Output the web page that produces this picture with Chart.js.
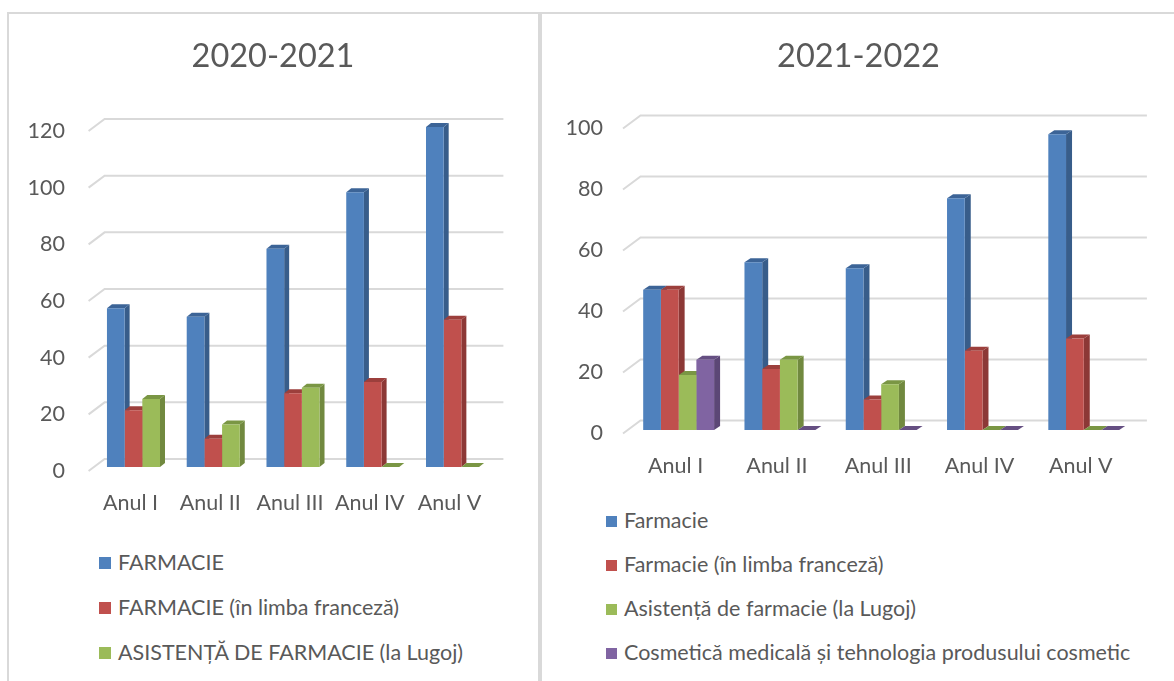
<!DOCTYPE html>
<html>
<head>
<meta charset="utf-8">
<script src="https://cdn.jsdelivr.net/npm/chart.js@4.4.1/dist/chart.umd.min.js"></script>
<style>
    body { margin: 0; background: #fff; width: 1174px; height: 681px; overflow: hidden; position: relative; font-family: Lato, sans-serif; }
    .panel { position: absolute; top: 12px; height: 700px; border-top: 2px solid #d9d9d9; border-left: 2px solid #d9d9d9; }
    #panelLeft { left: 7px; width: 529px; border-right: 2px solid #d9d9d9; }
    #panelRight { left: 540px; width: 700px; }
    canvas { position: absolute; }
    .legend { position: absolute; margin: 0; padding: 0; list-style: none; color: #595959; font-size: 21.5px; }
    .legend li { position: absolute; left: 0; white-space: nowrap; line-height: 24px; }
    .legend span { display: inline-block; vertical-align: middle; margin-right: 7px; margin-top: -3px; }
</style>
</head>
<body>
<div class="panel" id="panelLeft"></div>
<div class="panel" id="panelRight"></div>
<canvas id="chartLeft" width="528" height="520" style="left:9px;top:14px"></canvas>
<canvas id="chartRight" width="631" height="480" style="left:543px;top:14px"></canvas>
<ul class="legend" id="legendLeft" style="left:99px;top:550px"></ul>
<ul class="legend" id="legendRight" style="left:606px;top:508px"></ul>
<script>
// categories and values
const categories = ['Anul I', 'Anul II', 'Anul III', 'Anul IV', 'Anul V'];

const farmacie2021 = [56, 53, 77, 97, 120];
const farmacieFr2021 = [20, 10, 26, 30, 52];
const asistenta2021 = [24, 15, 28, 0, 0];

const farmacie2122 = [46, 55, 53, 76, 97];
const farmacieFr2122 = [46, 20, 10, 26, 30];
const asistenta2122 = [18, 23, 15, 0, 0];
const cosmetica2122 = [23, 0, 0, 0, 0];

const yTicksLeft = [0, 20, 40, 60, 80, 100, 120];
const yTicksRight = [0, 20, 40, 60, 80, 100];

const colors = {
    blue: ['#4f81bd', '#385d8a', '#3c6497'],
    red: ['#c0504d', '#8c3836', '#9c3f3c'],
    green: ['#9bbb59', '#71893f', '#7a9644'],
    purple: ['#8064a2', '#5c4776', '#654f82']
};

function makeDataset(label, data, c) {
    return { label: label, data: data, backgroundColor: c[0], sideColor: c[1], topColor: c[2], borderWidth: 0 };
}

// draws the gridlines on the back wall and the depth faces of the columns
const depth3d = {
    id: 'depth3d',
    beforeDatasetsDraw(chart, args, opts) {
        const ctx = chart.ctx;
        const y = chart.scales.y;
        const area = chart.chartArea;
        ctx.save();
        ctx.strokeStyle = '#d9d9d9';
        ctx.lineWidth = 2;
        y.ticks.forEach(t => {
            const py = y.getPixelForValue(t.value);
            ctx.beginPath();
            ctx.moveTo(area.left + opts.front[0], py + opts.front[1]);
            ctx.lineTo(area.left + opts.wall[0], py - opts.wall[1]);
            ctx.lineTo(area.right + opts.wall[0], py - opts.wall[1]);
            ctx.stroke();
        });
        chart.data.datasets.forEach((ds, i) => {
            chart.getDatasetMeta(i).data.forEach(bar => {
                const p = bar.getProps(['x', 'y', 'base', 'width']);
                const l = p.x - p.width / 2, r = p.x + p.width / 2;
                const dx = opts.dx, dy = opts.dy;
                ctx.fillStyle = ds.sideColor;
                ctx.beginPath();
                ctx.moveTo(r, p.base);
                ctx.lineTo(r + dx, p.base - dy);
                ctx.lineTo(r + dx, p.y - dy);
                ctx.lineTo(r, p.y);
                ctx.closePath();
                ctx.fill();
                ctx.fillStyle = ds.topColor;
                ctx.beginPath();
                ctx.moveTo(l, p.y);
                ctx.lineTo(l + dx, p.y - dy);
                ctx.lineTo(r + dx, p.y - dy);
                ctx.lineTo(r, p.y);
                ctx.closePath();
                ctx.fill();
            });
        });
        ctx.restore();
    }
};

function makeChart(id, title, datasets, ticks, g) {
    return new Chart(document.getElementById(id), {
        type: 'bar',
        data: { labels: categories, datasets: datasets },
        plugins: [depth3d],
        options: {
            responsive: false,
            animation: false,
            datasets: { bar: { categoryPercentage: g.catPct, barPercentage: 1 } },
            layout: { padding: 0 },
            scales: {
                x: {
                    grid: { display: false },
                    border: { display: false },
                    ticks: { color: '#595959', font: { family: 'Lato', size: 21.5 }, padding: g.xPad, labelOffset: -3, maxRotation: 0, autoSkip: false },
                    afterFit: s => { s.height = g.xHeight; }
                },
                y: {
                    min: 0,
                    max: ticks[ticks.length - 1],
                    afterBuildTicks: s => { s.ticks = ticks.map(v => ({ value: v })); },
                    grid: { display: false },
                    border: { display: false },
                    ticks: { color: '#595959', font: { family: 'Lato', size: 21.5 }, padding: g.yPad, labelOffset: g.labelOffset },
                    afterFit: s => { s.width = g.yWidth; }
                },
                yr: {
                    position: 'right',
                    grid: { display: false },
                    border: { display: false },
                    ticks: { display: false },
                    afterFit: s => { s.width = g.rightWidth; }
                }
            },
            plugins: {
                legend: { display: false },
                tooltip: { enabled: false },
                title: {
                    display: true,
                    text: title,
                    color: '#595959',
                    font: { family: 'Lato', size: 32.5, weight: 'normal', lineHeight: 1.2 },
                    padding: { top: 23, bottom: g.titleBottom }
                },
                depth3d: { dx: g.dx, dy: g.dy, wall: g.wall, front: g.front }
            }
        }
    });
}

function htmlLegend(chart, listId, rowGap, box) {
    const ul = document.getElementById(listId);
    chart.data.datasets.forEach((ds, i) => {
        const li = document.createElement('li');
        li.style.top = (i * rowGap) + 'px';
        const sq = document.createElement('span');
        sq.style.width = box + 'px';
        sq.style.height = box + 'px';
        sq.style.background = ds.backgroundColor;
        li.appendChild(sq);
        li.appendChild(document.createTextNode(ds.label));
        ul.appendChild(li);
    });
}

const left = makeChart('chartLeft', '2020-2021', [
    makeDataset('FARMACIE', farmacie2021, colors.blue),
    makeDataset('FARMACIE (în limba franceză)', farmacieFr2021, colors.red),
    makeDataset('ASISTENȚĂ DE FARMACIE (la Lugoj)', asistenta2021, colors.green)
], yTicksLeft, {
    catPct: 0.665, xPad: 15, xHeight: 67, yPad: 20.6, yWidth: 84.6, rightWidth: 44.6,
    labelOffset: 4, titleBottom: 51, dx: 5, dy: 4, wall: [11, 8], front: [-5, 4]
});

const right = makeChart('chartRight', '2021-2022', [
    makeDataset('Farmacie', farmacie2122, colors.blue),
    makeDataset('Farmacie (în limba franceză)', farmacieFr2122, colors.red),
    makeDataset('Asistență de farmacie (la Lugoj)', asistenta2122, colors.green),
    makeDataset('Cosmetică medicală și tehnologia produsului cosmetic', cosmetica2122, colors.purple)
], yTicksRight, {
    catPct: 0.70, xPad: 15, xHeight: 64, yPad: 17, yWidth: 85, rightWidth: 39.6,
    labelOffset: 3, titleBottom: 49, dx: 6, dy: 4, wall: [12.5, 9.5], front: [-5, 3.5]
});

htmlLegend(left, 'legendLeft', 45, 12);
htmlLegend(right, 'legendRight', 44, 11);
</script>
</body>
</html>
